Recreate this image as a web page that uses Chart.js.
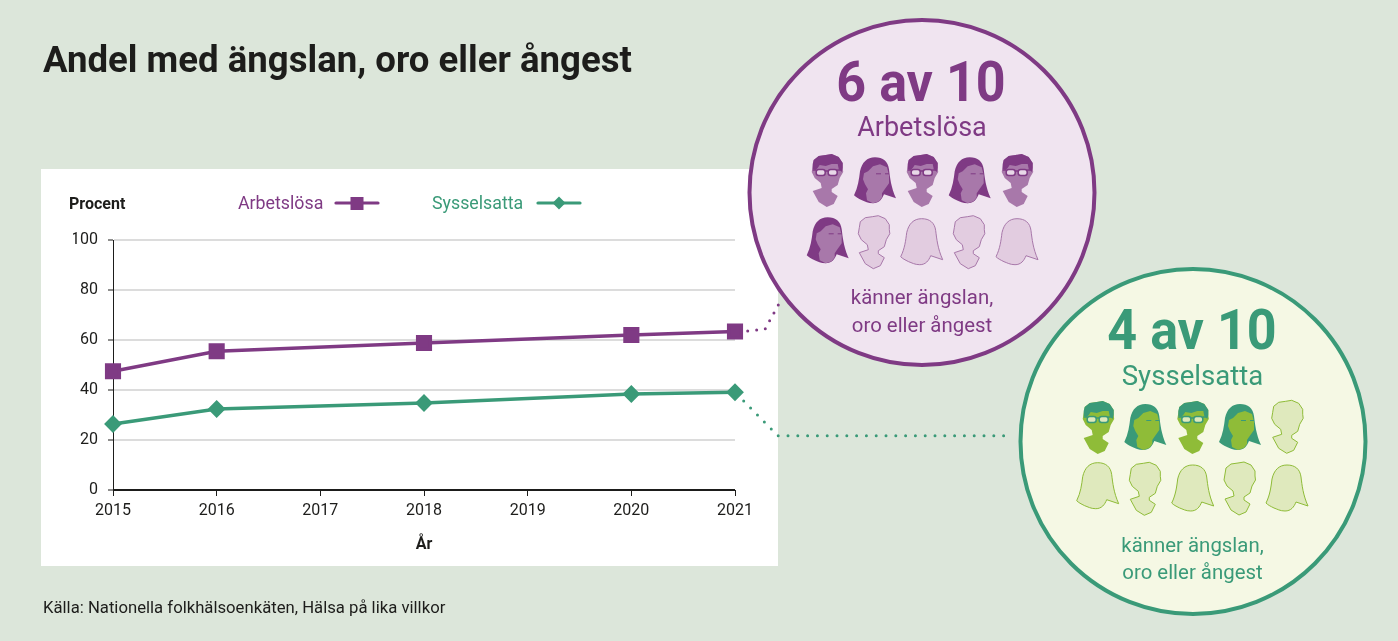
<!DOCTYPE html>
<html lang="sv">
<head>
<meta charset="utf-8">
<title>Andel med ängslan, oro eller ångest</title>
<script src="https://cdn.jsdelivr.net/npm/chart.js@4/dist/chart.umd.min.js"></script>
<style>
  html, body { margin: 0; padding: 0; }
  body { width: 1398px; height: 641px; background: #dce6da; position: relative; overflow: hidden; font-family: Roboto, sans-serif; color: #1d1d1b; }
  #panel { position: absolute; left: 41px; top: 169px; width: 737px; height: 397px; background: #fff; }
  #myChart { position: absolute; left: 0; top: 0; }
  #art { position: absolute; left: 0; top: 0; }
  .t { position: absolute; white-space: nowrap; line-height: 1; }
  .c { transform: translateX(-50%); }
  .big { transform: translateX(-50%) scaleX(0.93); }
  .key { position: absolute; }
</style>
</head>
<body>
<div id="panel"></div>
<canvas id="myChart" width="1398" height="641"></canvas>
<svg id="art" width="1398" height="641" viewBox="0 0 1398 641"></svg>

<div class="t" style="left:43px;top:42px;font-size:36.6px;font-weight:700;">Andel med ängslan, oro eller ångest</div>
<div class="t" style="left:69px;top:196px;font-size:16px;font-weight:700;">Procent</div>
<div id="legend"></div>
<div class="t" style="left:43px;top:600px;font-size:16.7px;">Källa: Nationella folkhälsoenkäten, Hälsa på lika villkor</div>

<div class="t big" style="left:921px;top:54px;font-size:56px;font-weight:700;color:#7f3a84;">6 av 10</div>
<div class="t c" style="left:922px;top:114px;font-size:27px;color:#7f3a84;">Arbetslösa</div>
<div class="t c" style="left:922px;top:287px;font-size:20.4px;color:#7f3a84;">känner ängslan,</div>
<div class="t c" style="left:922px;top:315px;font-size:20.4px;color:#7f3a84;">oro eller ångest</div>

<div class="t big" style="left:1191.5px;top:302px;font-size:56px;font-weight:700;color:#3a9a78;">4 av 10</div>
<div class="t c" style="left:1192.5px;top:362px;font-size:27.6px;color:#3a9a78;">Sysselsatta</div>
<div class="t c" style="left:1192.5px;top:535px;font-size:20.4px;color:#3a9a78;">känner ängslan,</div>
<div class="t c" style="left:1192.5px;top:562px;font-size:20.4px;color:#3a9a78;">oro eller ångest</div>

<script>
let years = ["2015", "2016", "2017", "2018", "2019", "2020", "2021"];
let arbetslosa = [47.5, 55.5, null, 58.8, null, 62, 63.4];
let sysselsatta = [26.4, 32.4, null, 34.8, null, 38.4, 39.1];
let yTicks = [0, 20, 40, 60, 80, 100];

let purple = "#7f3a84";
let green = "#3a9a78";
let tickFont = { family: "Roboto", size: 16 };

Chart.defaults.font.family = "Roboto";

let chart = new Chart(document.getElementById("myChart").getContext("2d"), {
  type: "line",
  data: {
    labels: years,
    datasets: [
      { label: "Arbetslösa", data: arbetslosa, borderColor: purple, backgroundColor: purple, borderWidth: 3.4,
        pointStyle: "rect", pointRadius: 9, pointHoverRadius: 9, spanGaps: true, tension: 0 },
      { label: "Sysselsatta", data: sysselsatta, borderColor: green, backgroundColor: green, borderWidth: 3.4,
        pointStyle: "rectRot", pointRadius: 6.5, pointHoverRadius: 6.5, spanGaps: true, tension: 0 }
    ]
  },
  options: {
    responsive: false,
    animation: false,
    layout: { padding: { left: 73, right: 663, top: 240, bottom: 86 } },
    plugins: { legend: { display: false }, tooltip: { enabled: false } },
    scales: {
      x: {
        type: "category",
        offset: false,
        afterFit: function (s) { s.height = 65; },
        grid: { drawOnChartArea: false, drawTicks: true, tickLength: 6, tickColor: "#1d1d1b", tickWidth: 1 },
        border: { color: "#1d1d1b", width: 1 },
        ticks: { color: "#1d1d1b", font: tickFont, padding: 5, maxRotation: 0, autoSkip: false },
        title: { display: true, text: "År", color: "#1d1d1b", font: { family: "Roboto", size: 16, weight: "700" }, padding: { top: 8, bottom: 0 } }
      },
      y: {
        min: 0,
        max: 100,
        afterFit: function (s) { s.width = 40; },
        afterBuildTicks: function (s) { s.ticks = yTicks.map(function (v) { return { value: v }; }); },
        grid: { color: function (c) { return c.tick.value === 0 ? "#1d1d1b" : "#dcdcdc"; }, lineWidth: 2, tickLength: 5, tickColor: "#1d1d1b", tickWidth: 1 },
        border: { color: "#1d1d1b", width: 1 },
        ticks: { color: "#1d1d1b", font: tickFont, padding: 10 }
      }
    }
  }
});

// legend in html since the key sits after the text
function addLegend(label, color, x, keyX, marker) {
  let holder = document.getElementById("legend");
  let t = document.createElement("div");
  t.className = "t";
  t.style.cssText = "left:" + x + "px;top:194px;font-size:17.8px;color:" + color;
  t.textContent = label;
  holder.appendChild(t);
  let ns = "http://www.w3.org/2000/svg";
  let k = document.createElementNS(ns, "svg");
  k.setAttribute("class", "key");
  k.setAttribute("width", 46);
  k.setAttribute("height", 20);
  k.style.left = keyX + "px";
  k.style.top = "193px";
  k.innerHTML = '<line x1="2" y1="10" x2="44" y2="10" stroke="' + color + '" stroke-width="3.2" stroke-linecap="round"/>' + marker;
  holder.appendChild(k);
}
addLegend(chart.data.datasets[0].label, purple, 238, 334, '<rect x="16.5" y="4" width="13" height="13" fill="' + purple + '"/>');
addLegend(chart.data.datasets[1].label, green, 432, 536, '<path d="M23 3.5 L29.5 10 L23 16.5 L16.5 10 Z" fill="' + green + '"/>');

function poly(pts) {
  return "M" + pts.map(function (p) { return p[0] + " " + p[1]; }).join("L") + "Z";
}

let manShape = poly([[2, 6], [7, 2], [14, 1], [20, 0], [27, 3], [31, 9], [31, 14], [31.5, 18], [28, 24], [26, 31], [20, 35], [20, 38], [26, 42], [22, 50], [15, 53], [7, 48], [1, 37], [10, 34], [9, 29], [3, 24], [0, 18], [1, 12]]);
let manHair = poly([[2, 6], [7, 2], [14, 1], [20, 0], [27, 3], [31, 9], [31, 14], [30, 18], [27, 15], [26, 10], [20, 10], [14, 12], [8, 11], [6, 14], [4, 16], [1, 15], [1, 10]]);
let womanShape = "M21 0 C29 0 34 4 35 12 C36 20 37 30 42 41 L30 37 C28 42 25 46 19 46 C14 46 11 44 8 43 C4 41 2 40 0 38 C4 30 5 22 6 14 C8 5 13 0 21 0Z";
let womanFace = poly([[10, 16], [14, 14], [19, 9], [26, 7], [33, 10], [35, 18], [35, 26], [30, 33], [28, 36], [28, 40], [25, 44], [19, 46], [13, 43], [12, 36], [14, 32], [11, 27], [9, 22]]);

function head(kind, x, y, filled, c) {
  let g = '<g transform="translate(' + x + " " + y + ')" stroke-linejoin="round">';
  if (!filled) {
    g += '<path d="' + (kind === "man" ? manShape : womanShape) + '" fill="' + c.empty + '" stroke="' + c.edge + '" stroke-width="1"/>';
  } else if (kind === "man") {
    g += '<path d="' + manShape + '" fill="' + c.skin + '"/>';
    g += '<path d="' + manHair + '" fill="' + c.hair + '"/>';
    g += '<rect x="4.5" y="15.5" width="9" height="6" rx="2.5" fill="' + c.lens + '" stroke="' + c.hair + '" stroke-width="1.5"/>';
    g += '<rect x="16.5" y="15.5" width="9" height="6" rx="2.5" fill="' + c.lens + '" stroke="' + c.hair + '" stroke-width="1.5"/>';
    g += '<path d="M13.5 17 H16.5 M1 16 H4.5 M25.5 16 H29" stroke="' + c.hair + '" stroke-width="1.3"/>';
  } else {
    g += '<path d="' + womanShape + '" fill="' + c.hair + '"/>';
    g += '<path d="' + womanFace + '" fill="' + c.skin + '"/>';
    g += '<path d="M22 16.5 H27 M31 16.5 H35" stroke="' + c.hair + '" stroke-width="1"/>';
  }
  return g + "</g>";
}

let purpleLook = { skin: "#a878aa", hair: "#7f3a84", empty: "#e2cce0", edge: "#a878aa", lens: "#e8d8e8" };
let greenLook = { skin: "#8fbc38", hair: "#3a9a78", empty: "#dfe9bd", edge: "#8fbc38", lens: "#dfe9bd" };

let art = "";
// connectors from the last points out to the circles
art += '<path d="M747.7 331 L765 329.3 L778.7 304.3" fill="none" stroke="' + purple + '" stroke-width="3" stroke-linecap="round" stroke-dasharray="0 9"/>';
art += '<path d="M743.7 401 L778 435.7 L1012 435.7" fill="none" stroke="' + green + '" stroke-width="3" stroke-linecap="round" stroke-dasharray="0 9.8"/>';
art += '<circle cx="922" cy="192.5" r="172.5" fill="#f0e4f0" stroke="' + purple + '" stroke-width="4"/>';
art += '<circle cx="1193" cy="441.5" r="172.5" fill="#f5f8e4" stroke="' + green + '" stroke-width="4"/>';

let purpleHeads = [["man", 811.7, 154, 1], ["woman", 854, 157.3, 1], ["man", 906.7, 154, 1], ["woman", 948.7, 157.3, 1], ["man", 1001.7, 154, 1],
  ["woman", 806.7, 217.3, 1], ["man", 858.3, 215.7, 0], ["woman", 900.7, 218.7, 0], ["man", 953.3, 215.7, 0], ["woman", 996, 218.7, 0]];
let greenHeads = [["man", 1082.7, 401, 1], ["woman", 1124.3, 404, 1], ["man", 1177.3, 401, 1], ["woman", 1219, 404, 1], ["man", 1271.7, 400.3, 0],
  ["woman", 1076.7, 462.7, 0], ["man", 1129.3, 462.3, 0], ["woman", 1171.7, 465, 0], ["man", 1224, 462, 0], ["woman", 1266, 465, 0]];
purpleHeads.forEach(function (h) { art += head(h[0], h[1], h[2], h[3], purpleLook); });
greenHeads.forEach(function (h) { art += head(h[0], h[1], h[2], h[3], greenLook); });
document.getElementById("art").innerHTML = art;
</script>
</body>
</html>
